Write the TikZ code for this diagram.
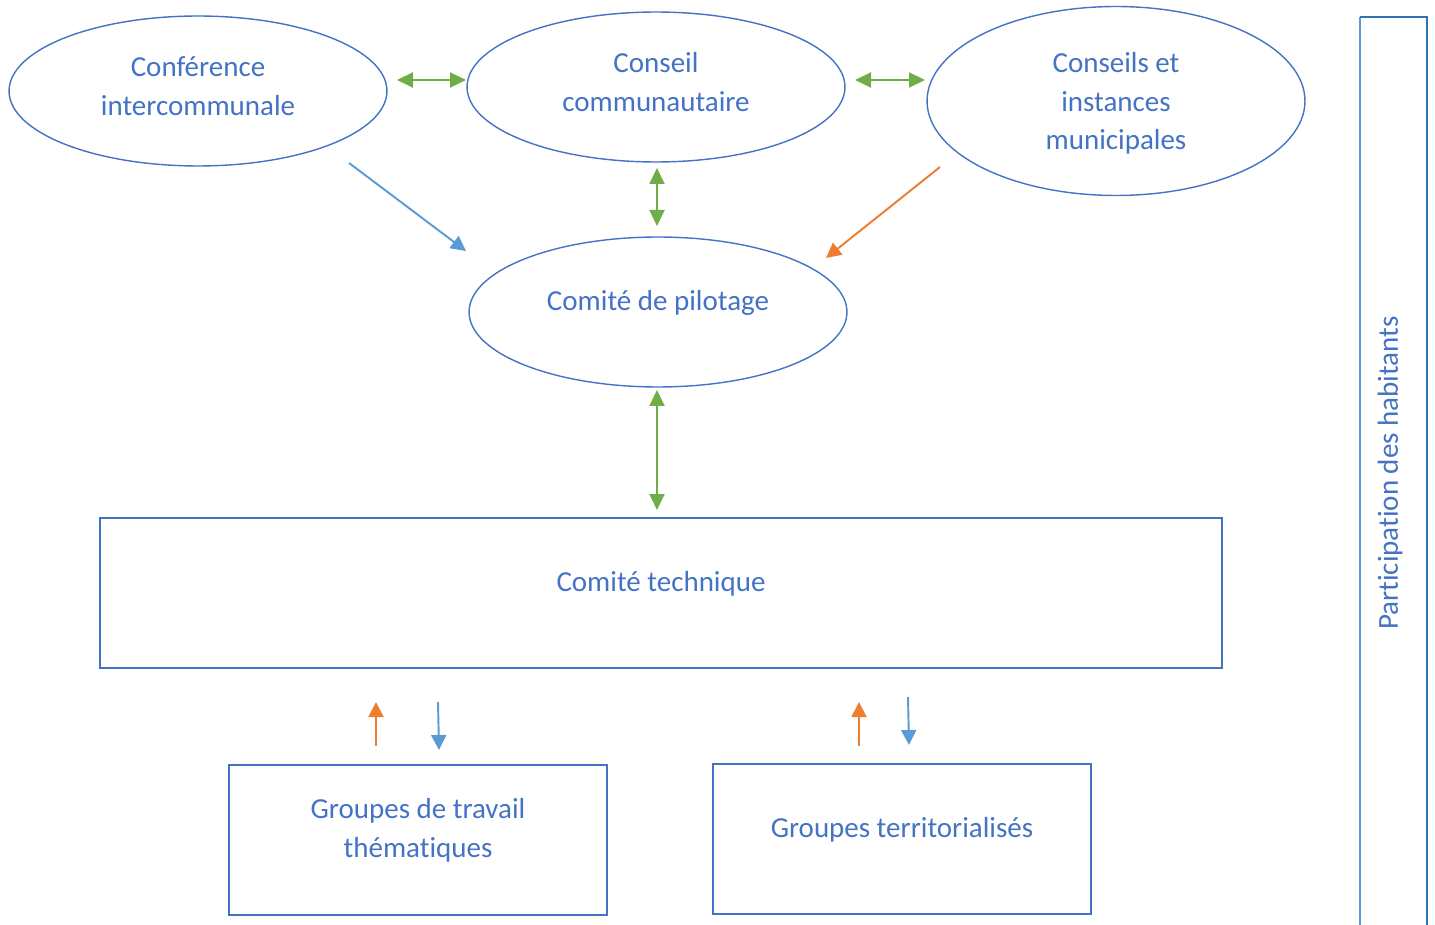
\documentclass[tikz,border=0pt]{standalone}
\usepackage{fontspec}
\setmainfont[Ligatures=NoCommon]{Carlito}
\usetikzlibrary{arrows.meta,shapes.geometric,positioning}
\definecolor{office blue}{HTML}{4472C4}
\definecolor{light blue}{HTML}{5B9BD5}
\definecolor{dark blue}{HTML}{2E75B6}
\definecolor{office green}{HTML}{70AD47}
\definecolor{office orange}{HTML}{ED7D31}

\begin{document}
\begin{tikzpicture}
    [x=0.02cm,y=-0.02cm,
    every node/.style={text=office blue,font=\fontsize{16.5}{22}\selectfont},
    instance/.style={ellipse,draw=office blue,line width=0.8pt,
                     inner sep=0pt,minimum width=7.56cm,minimum height=3cm,align=center},
    comite/.style={rectangle,draw=office blue,line width=0.8pt,text depth=13.5pt,
                   inner sep=0pt,minimum height=3cm,align=center},
    both/.style={{Triangle[length=0.32cm,width=0.3cm]}-{Triangle[length=0.32cm,width=0.3cm]},
                 draw=office green,line width=1.1pt},
    up/.style={-{Triangle[length=0.3cm,width=0.3cm]},draw=office orange,line width=1.1pt},
    down/.style={-{Triangle[length=0.3cm,width=0.3cm]},draw=light blue,line width=1.1pt}]

    \useasboundingbox (0,0) rectangle (1435,925);

    % instances
    \node[instance, text depth=5.7pt] (conference) at (198,91) {Conférence\\intercommunale};
    \node[instance, text depth=5.7pt] (conseil)    at (656,87) {Conseil\\communautaire};
    \node[instance, text depth=0pt, minimum height=3.78cm] (municipal) at (1116,101)
        {Conseils et\\instances\\municipales};
    \node[instance, text depth=13.5pt] (copil) at (658,312) {Comité de pilotage};

    % comites et groupes
    \node[comite, minimum width=22.44cm] (cotech) at (661,593) {Comité technique};
    \node[comite, minimum width=7.56cm] (thematic) at (418,840)
        {Groupes de travail\\thématiques};
    \node[comite, minimum width=7.56cm] (territorial) at (902,839)
        {Groupes territorialisés};

    % arrow ends
    \coordinate (c1) at (397,80);   \coordinate (c2) at (466,80);
    \coordinate (c3) at (855,80);   \coordinate (c4) at (925,80);
    \coordinate (c5) at (657,168);  \coordinate (c6) at (657,226);
    \coordinate (c7) at (657,390);  \coordinate (c8) at (657,510);
    \coordinate (b1) at (349,163);  \coordinate (b2) at (466,251);
    \coordinate (o1) at (940,167);  \coordinate (o2) at (826,258);
    \coordinate (t1) at (376,746);  \coordinate (t2) at (376,702);
    \coordinate (t3) at (438,702);  \coordinate (t4) at (439,750);
    \coordinate (g1) at (859,746);  \coordinate (g2) at (859,702);
    \coordinate (g3) at (908,697);  \coordinate (g4) at (909,745);

    \draw[both] (c1) -- (c2);
    \draw[both] (c3) -- (c4);
    \draw[both] (c5) -- (c6);
    \draw[both] (c7) -- (c8);
    \draw[down] (b1) -- (b2);
    \draw[up]   (o1) -- (o2);
    \draw[up]   (t1) -- (t2);
    \draw[down] (t3) -- (t4);
    \draw[up]   (g1) -- (g2);
    \draw[down] (g3) -- (g4);

    % participation
    \draw[light blue, line width=0.9pt] (1360,930) -- (1360,17);
    \draw[dark blue, line width=0.9pt] (1360,17) -- (1427,17) -- (1427,930);
    \node[rotate=90] (habitants) at (1390,473) {Participation des habitants};
\end{tikzpicture}
\end{document}
